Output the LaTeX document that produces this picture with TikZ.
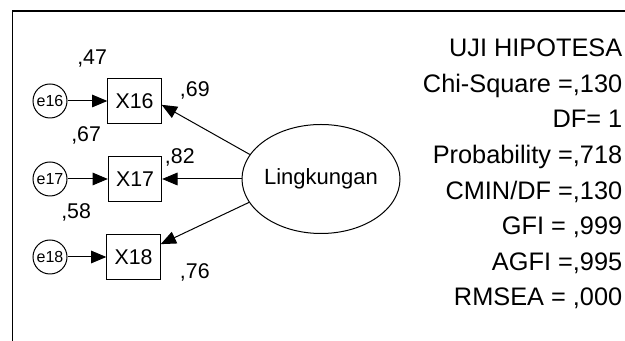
\documentclass[tikz,border=0pt]{standalone}
\usepackage{fontspec}
\setmainfont{Liberation Sans}
\usetikzlibrary{arrows.meta,shapes.geometric}

\begin{document}
\begin{tikzpicture}[x=0.75pt, y=-0.75pt,
    panah/.style={-{Triangle[length=11.5pt,width=9.5pt]}, line width=0.75pt},
    galat/.style={circle, draw, line width=0.75pt, minimum size=25.5pt, inner sep=0pt, font=\fontsize{12}{14}\selectfont},
    indikator/.style={rectangle, draw, line width=0.75pt, minimum width=40pt, minimum height=33.5pt, inner sep=0pt, font=\fontsize{16}{19}\selectfont},
    angka/.style={anchor=base west, inner sep=0pt, font=\fontsize{16}{19}\selectfont},
    uji/.style={anchor=base east, inner sep=0pt, font=\fontsize{19}{23}\selectfont}]
    \useasboundingbox (0,0) rectangle (625,341);
    \draw[line width=1.1pt] (12.5,341) -- (12.5,10.8) -- (625,10.8);

    % Variabel laten
    \node[ellipse, draw, line width=0.75pt, minimum width=118.5pt, minimum height=81.75pt,
        inner xsep=-2pt, font=\fontsize{16.5}{19}\selectfont] (L) at (321,179) {Lingkungan};

    % Indikator dan galat
    \foreach \i/\x/\y in {16/134.5/101, 17/135/179, 18/133.5/257} {
        \node[indikator] (X\i) at (\x,\y) {X\i};
        \node[galat] (e\i) at (50,\y) {e\i};
        \draw[panah] (e\i) -- (X\i);
    }
    \draw[panah] (L.161) -- (X16.-8);
    \draw[panah] (L) -- (X17);
    \draw[panah] (L.198) -- (X18);

    % Loading dan R kuadrat
    \node[angka] (r16) at (77,65) {,47};
    \node[angka] (b16) at (179.7,96.7) {,69};
    \node[angka] (r17) at (71,141.7) {,67};
    \node[angka] (b17) at (164.7,163.3) {,82};
    \node[angka] (r18) at (61,218.3) {,58};
    \node[angka] (b18) at (179.7,278.3) {,76};

    % Hasil uji model
    \foreach \n/\t in {0/{UJI HIPOTESA}, 1/{Chi-Square =,130}, 2/{DF= 1},
        3/{Probability =,718}, 4/{CMIN/DF =,130}, 5/{GFI = ,999},
        6/{AGFI =,995}, 7/{RMSEA = ,000}} {
        \node[uji] (uji\n) at (622.5,56.7+35.6*\n) {\t};
    }
\end{tikzpicture}
\end{document}
